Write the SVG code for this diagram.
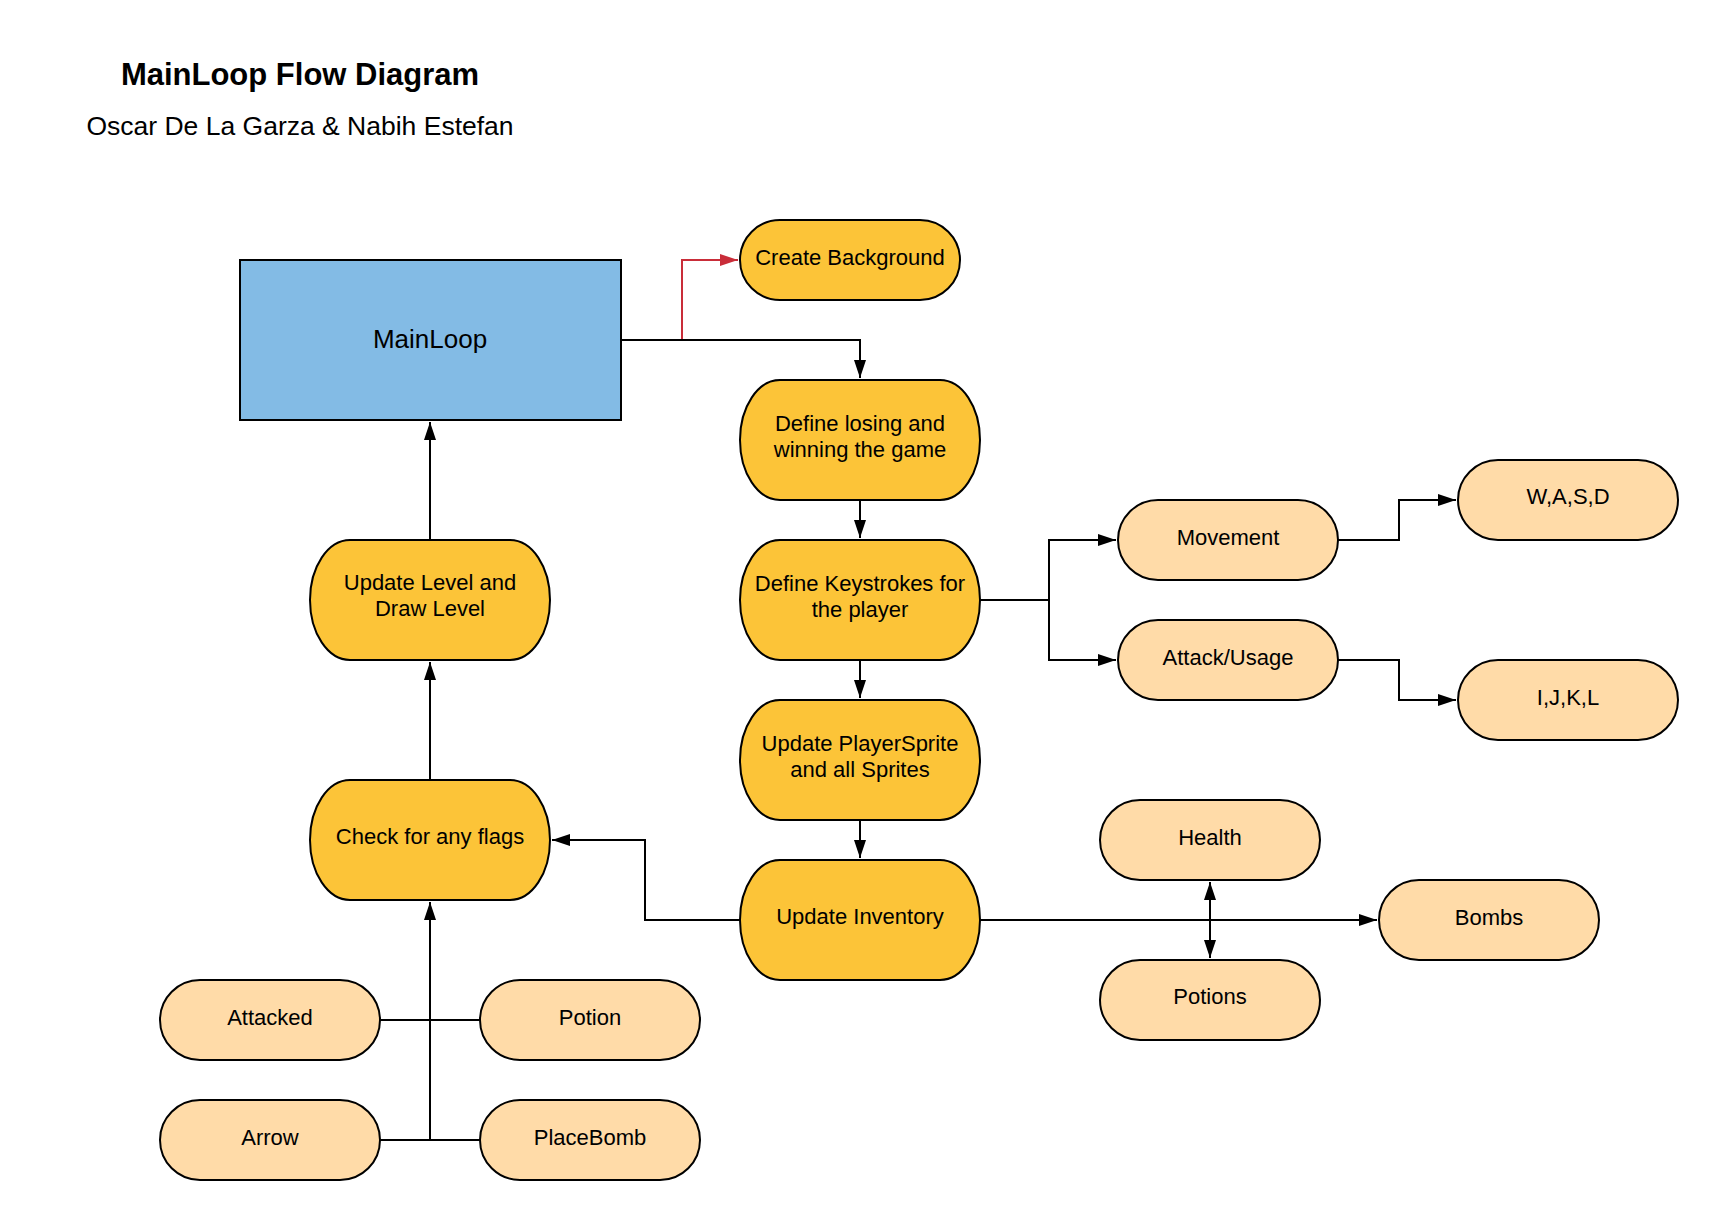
<svg xmlns="http://www.w3.org/2000/svg" width="1719" height="1220" viewBox="0 0 1719 1220">
<style>
text{font-family:"Liberation Sans",Arial,sans-serif;fill:#000;text-anchor:middle}
.lbl{font-size:22px}
.main{fill:#FCC438;stroke:#000;stroke-width:2}
.sub{fill:#FFDBA8;stroke:#000;stroke-width:2}
.c{fill:none;stroke:#000;stroke-width:2}
.r{fill:none;stroke:#C92D39;stroke-width:2}
</style>
<defs>
<marker id="a" markerUnits="userSpaceOnUse" markerWidth="19" markerHeight="13" refX="18" refY="6.5" orient="auto-start-reverse"><path d="M0,0.5 L18,6.5 L0,12.5 z" fill="#000"/></marker>
<marker id="ar" markerUnits="userSpaceOnUse" markerWidth="19" markerHeight="13" refX="18" refY="6.5" orient="auto"><path d="M0,0.5 L18,6.5 L0,12.5 z" fill="#C92D39"/></marker>
</defs>
<rect width="1719" height="1220" fill="#fff"/>
<g id="title">
<text x="300" y="85" style="font-size:31px;font-weight:bold">MainLoop Flow Diagram</text>
<text x="300" y="135" style="font-size:26.5px">Oscar De La Garza &amp; Nabih Estefan</text>
</g>
<g id="connectors">
<path class="r" d="M621,340 H682 V260 H738" marker-end="url(#ar)"/>
<path class="c" d="M621,340 H860 V378" marker-end="url(#a)"/>
<path class="c" d="M860,500 V538" marker-end="url(#a)"/>
<path class="c" d="M860,660 V698" marker-end="url(#a)"/>
<path class="c" d="M860,820 V858" marker-end="url(#a)"/>
<path class="c" d="M980,600 H1049 V540 H1116" marker-end="url(#a)"/>
<path class="c" d="M1049,600 V660 H1116" marker-end="url(#a)"/>
<path class="c" d="M1338,540 H1399 V500 H1456" marker-end="url(#a)"/>
<path class="c" d="M1338,660 H1399 V700 H1456" marker-end="url(#a)"/>
<path class="c" d="M740,920 H645 V840 H552" marker-end="url(#a)"/>
<path class="c" d="M980,920 H1377" marker-end="url(#a)"/>
<path class="c" d="M1210,882 V958" marker-start="url(#a)" marker-end="url(#a)"/>
<path class="c" d="M430,780 V662" marker-end="url(#a)"/>
<path class="c" d="M430,540 V422" marker-end="url(#a)"/>
<path class="c" d="M430,1140 V902" marker-end="url(#a)"/>
<path class="c" d="M380,1020 H480"/>
<path class="c" d="M380,1140 H480"/>
</g>
<g id="mainloop"><rect x="240" y="260" width="381" height="160" fill="#83BBE5" stroke="#000" stroke-width="2"/><text x="430" y="348" style="font-size:26px">MainLoop</text></g>
<g id="create-background"><rect class="main" x="740" y="220" width="220" height="80" rx="40" ry="40"/><text class="lbl" x="850" y="265">Create Background</text></g>
<g id="define-losing"><rect class="main" x="740" y="380" width="240" height="120" rx="40" ry="60"/><text class="lbl" x="860" y="431">Define losing and</text><text class="lbl" x="860" y="457">winning the game</text></g>
<g id="define-keystrokes"><rect class="main" x="740" y="540" width="240" height="120" rx="40" ry="60"/><text class="lbl" x="860" y="591">Define Keystrokes for</text><text class="lbl" x="860" y="617">the player</text></g>
<g id="update-sprite"><rect class="main" x="740" y="700" width="240" height="120" rx="40" ry="60"/><text class="lbl" x="860" y="751">Update PlayerSprite</text><text class="lbl" x="860" y="777">and all Sprites</text></g>
<g id="update-inventory"><rect class="main" x="740" y="860" width="240" height="120" rx="40" ry="60"/><text class="lbl" x="860" y="924">Update Inventory</text></g>
<g id="update-level"><rect class="main" x="310" y="540" width="240" height="120" rx="40" ry="60"/><text class="lbl" x="430" y="590">Update Level and</text><text class="lbl" x="430" y="616">Draw Level</text></g>
<g id="check-flags"><rect class="main" x="310" y="780" width="240" height="120" rx="40" ry="60"/><text class="lbl" x="430" y="844">Check for any flags</text></g>
<g id="movement"><rect class="sub" x="1118" y="500" width="220" height="80" rx="40" ry="40"/><text class="lbl" x="1228" y="545">Movement</text></g>
<g id="attack-usage"><rect class="sub" x="1118" y="620" width="220" height="80" rx="40" ry="40"/><text class="lbl" x="1228" y="665">Attack/Usage</text></g>
<g id="wasd"><rect class="sub" x="1458" y="460" width="220" height="80" rx="40" ry="40"/><text class="lbl" x="1568" y="504">W,A,S,D</text></g>
<g id="ijkl"><rect class="sub" x="1458" y="660" width="220" height="80" rx="40" ry="40"/><text class="lbl" x="1568" y="705">I,J,K,L</text></g>
<g id="health"><rect class="sub" x="1100" y="800" width="220" height="80" rx="40" ry="40"/><text class="lbl" x="1210" y="845">Health</text></g>
<g id="potions"><rect class="sub" x="1100" y="960" width="220" height="80" rx="40" ry="40"/><text class="lbl" x="1210" y="1004">Potions</text></g>
<g id="bombs"><rect class="sub" x="1379" y="880" width="220" height="80" rx="40" ry="40"/><text class="lbl" x="1489" y="925">Bombs</text></g>
<g id="attacked"><rect class="sub" x="160" y="980" width="220" height="80" rx="40" ry="40"/><text class="lbl" x="270" y="1025">Attacked</text></g>
<g id="potion"><rect class="sub" x="480" y="980" width="220" height="80" rx="40" ry="40"/><text class="lbl" x="590" y="1025">Potion</text></g>
<g id="arrow"><rect class="sub" x="160" y="1100" width="220" height="80" rx="40" ry="40"/><text class="lbl" x="270" y="1145">Arrow</text></g>
<g id="placebomb"><rect class="sub" x="480" y="1100" width="220" height="80" rx="40" ry="40"/><text class="lbl" x="590" y="1145">PlaceBomb</text></g>
</svg>
